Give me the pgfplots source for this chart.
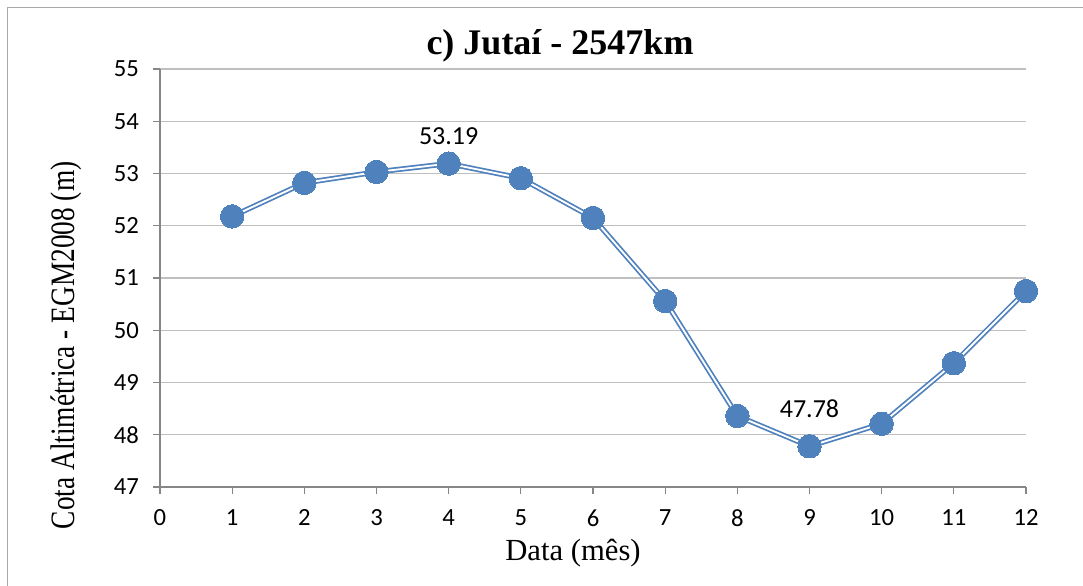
\documentclass[border=0pt]{standalone}
\usepackage{pgfplots}
\pgfplotsset{compat=1.18}
\usepackage{fontspec}
\usepackage{graphicx}
\setmainfont{Liberation Serif}
\newfontfamily\calfont{Carlito}
\definecolor{serblue}{HTML}{4F81BD}
\definecolor{axgray}{HTML}{868686}
\definecolor{grdgray}{HTML}{BFBFBF}
\begin{document}
\begin{tikzpicture}[x=1pt,y=1pt]
\useasboundingbox (0,0) rectangle (812.25,-439.5);
\fill[white] (0,0) rectangle (812.25,-439.5);
\draw[color=axgray!70, line width=0.75pt] (5.25,-439.5) -- (5.25,-5.25) -- (812.25,-5.25);
\begin{axis}[
  at={(120pt,-365.25pt)}, anchor=south west,
  scale only axis, width=649.5pt, height=313.5pt,
  xmin=0, xmax=12, ymin=47, ymax=55,
  xtick={0,1,...,12}, ytick={47,48,...,55},
  axis lines=left, axis line style={-, color=axgray, line width=0.9pt},
  ymajorgrids, grid style={color=grdgray, line width=0.9pt},
  tick align=outside, major tick length=5.25pt,
  tick style={color=axgray, line width=0.9pt},
  ticklabel style={font=\calfont\fontsize{18.5}{20}\selectfont},
  /pgf/number format/assume math mode=true,
  yticklabel style={xshift=-7pt},
  xticklabel style={yshift=-8pt},
  clip=false,
]
\addplot[color=serblue, line width=1.3pt, double=white, double distance=1.4pt,
  mark=*, mark size=8.8pt, mark options={fill=serblue, draw=serblue, line width=0pt, double=none}]
coordinates {
(1,52.18) (2,52.82) (3,53.03) (4,53.19) (5,52.91) (6,52.15)
(7,50.56) (8,48.36) (9,47.78) (10,48.21) (11,49.37) (12,50.75)
};
\node[font=\calfont\fontsize{19.5}{22}\selectfont, anchor=south, inner sep=0pt] at (axis cs:4,53.19) [yshift=14pt] {53.19};
\node[font=\calfont\fontsize{19.5}{22}\selectfont, anchor=south, inner sep=0pt] at (axis cs:9,47.78) [yshift=21pt] {47.78};
\end{axis}
\node[font=\bfseries\fontsize{27}{32}\selectfont] at (420,-34.5) {c) Jutaí - 2547km};
\node[font=\fontsize{23}{27}\selectfont] at (429.75,-415) {Data (mês)};
\node[font=\fontsize{20.5}{25}\selectfont, rotate=90] at (50,-259) {\scalebox{1}[1.25]{Cota Altimétrica - EGM2008 (m)}};
\end{tikzpicture}
\end{document}
